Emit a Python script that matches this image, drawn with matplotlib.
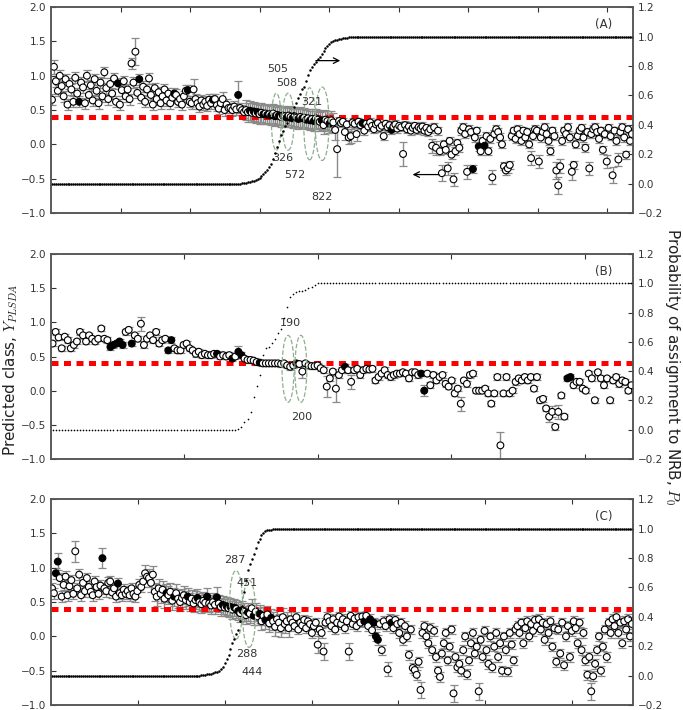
import matplotlib
matplotlib.use("Agg")
import matplotlib.pyplot as plt
from matplotlib.patches import Ellipse
import numpy as np

plt.rcParams['font.family'] = ['DejaVu Sans']
plt.rcParams['mathtext.fontset'] = 'cm'

# ---------------- panel (A) ----------------
span_A, step_A = 837, 100
Y_A = [
    0.65, 1.13, 0.92, 0.78, 1.00, 0.85, 0.70, 0.95, 0.58, 0.88,
    0.80, 0.62, 0.97, 0.74, 0.62, 0.90, 0.83, 0.60, 1.00, 0.72,
    0.86, 0.64, 0.95, 0.78, 0.60, 0.90, 0.70, 1.05, 0.82, 0.66,
    0.88, 0.74, 0.96, 0.62, 0.89, 0.58, 0.79, 0.92, 0.70, 0.80,
    0.66, 1.18, 0.90, 1.35, 0.75, 0.95, 0.68, 0.84, 0.62, 0.80,
    0.96, 0.72, 0.58, 0.82, 0.66, 0.76, 0.60, 0.70, 0.80, 0.64,
    0.74, 0.60, 0.68, 0.74, 0.72, 0.62, 0.66, 0.58, 0.70, 0.78,
    0.79, 0.62, 0.60, 0.80, 0.66, 0.60, 0.55, 0.64, 0.58, 0.62,
    0.56, 0.65, 0.60, 0.65, 0.66, 0.57, 0.52, 0.60, 0.66, 0.50,
    0.58, 0.53, 0.53, 0.50, 0.55, 0.51, 0.72, 0.53, 0.50, 0.47,
    0.50, 0.47, 0.49, 0.46, 0.48, 0.45, 0.47, 0.44, 0.46, 0.44,
    0.45, 0.43, 0.44, 0.42, 0.45, 0.41, 0.43, 0.42, 0.40, 0.42,
    0.41, 0.39, 0.42, 0.40, 0.38, 0.41, 0.39, 0.37, 0.40, 0.38,
    0.39, 0.36, 0.38, 0.35, 0.37, 0.34, 0.38, 0.36, 0.33, 0.35,
    0.28, 0.36, 0.34, 0.30, 0.35, 0.32, 0.21, -0.07, 0.34, 0.31,
    0.33, 0.18, 0.29, 0.10, 0.12, 0.32, 0.30, 0.15, 0.33, 0.28,
    0.31, 0.20, 0.30, 0.26, 0.32, 0.27, 0.22, 0.29, 0.31, 0.24,
    0.27, 0.12, 0.30, 0.25, 0.28, 0.21, 0.26, 0.29, 0.23, 0.27,
    0.25, -0.14, 0.28, 0.22, 0.26, 0.20, 0.24, 0.27, 0.21, 0.25,
    0.23, 0.26, 0.20, 0.24, 0.18, 0.22, -0.02, 0.25, -0.05, 0.20,
    -0.10, -0.42, 0.00, -0.08, -0.35, 0.05, -0.15, -0.51, -0.10, 0.02,
    -0.05, 0.20, 0.25, 0.15, -0.40, 0.22, 0.18, -0.36, 0.10, 0.20,
    -0.03, -0.10, 0.05, -0.02, 0.12, -0.10, 0.08, -0.48, 0.15, 0.22,
    0.18, 0.10, 0.00, -0.32, -0.38, -0.35, -0.30, 0.12, 0.20, 0.08,
    0.22, 0.15, 0.05, 0.20, 0.10, 0.18, 0.00, -0.20, 0.12, 0.22,
    0.20, -0.25, 0.10, 0.18, 0.25, 0.15, 0.05, -0.10, 0.20, 0.12,
    -0.38, -0.60, -0.32, 0.05, 0.20, 0.15, 0.25, 0.10, -0.40, -0.30,
    0.00, 0.12, 0.20, 0.24, 0.10, -0.05, 0.18, -0.35, 0.15, 0.22,
    0.25, 0.18, 0.08, 0.20, -0.08, 0.15, -0.25, 0.24, 0.12, -0.45,
    0.20, 0.05, -0.22, 0.18, 0.25, 0.10, -0.15, 0.22, 0.05, 0.15,
]
filled_A = [14, 34, 45, 63, 70, 83, 96, 102, 104, 106, 109, 111, 113, 115,
            117, 119, 121, 124, 127, 129, 131, 133, 135, 139, 143, 160, 175,
            217, 220, 223]
# typical error bar half-width over index ranges (start, stop, err)
err_regions_A = [(0, 100, 0.08), (100, 146, 0.14), (146, 300, 0.06)]
big_err_A = {1: 0.10, 41: 0.08, 43: 0.20, 73: 0.15, 88: 0.10, 96: 0.20,
             140: 0.13, 146: 0.15, 147: 0.40, 151: 0.12, 153: 0.10, 154: 0.10,
             157: 0.10, 181: 0.17, 196: 0.10, 198: 0.10, 201: 0.12, 204: 0.10,
             207: 0.10, 214: 0.10, 227: 0.10, 247: 0.10, 251: 0.10, 260: 0.12,
             261: 0.12, 262: 0.10, 268: 0.12, 277: 0.10, 286: 0.10, 289: 0.12,
             292: 0.10}
P_A = [0.0] * 98 + [
    0.002, 0.004, 0.006, 0.009, 0.012, 0.015, 0.018, 0.022, 0.03, 0.04,
    0.05, 0.065, 0.08, 0.095, 0.11, 0.13, 0.17, 0.21, 0.25, 0.29,
    0.33, 0.36, 0.39, 0.41, 0.43, 0.45, 0.48, 0.52, 0.55, 0.58,
    0.61, 0.64, 0.66, 0.70, 0.74, 0.77, 0.79, 0.81, 0.83, 0.845,
    0.86, 0.88, 0.90, 0.92, 0.935, 0.95, 0.96, 0.968, 0.974, 0.978,
    0.982, 0.985, 0.988, 0.99, 0.992, 0.994, 0.995, 0.996, 0.997, 0.998,
    0.999, 0.9995] + [1.0] * 140
ellipses_A = [(324, 0.33, 14, 0.83), (341, 0.33, 17, 0.83),
              (372, 0.30, 17, 1.05), (390, 0.30, 20, 1.07)]
labels_A = [("505", 326, 1.10), ("508", 339, 0.89), ("321", 375, 0.62),
            ("326", 334, -0.20), ("572", 351, -0.45), ("822", 390, -0.77)]

# ---------------- panel (B) ----------------
span_B, step_B = 218, 50
Y_B = [
    0.69, 0.86, 0.78, 0.62, 0.79, 0.74, 0.62, 0.67, 0.72, 0.86,
    0.81, 0.72, 0.81, 0.76, 0.72, 0.76, 0.91, 0.76, 0.74, 0.64,
    0.67, 0.69, 0.72, 0.67, 0.86, 0.89, 0.69, 0.81, 0.76, 0.98,
    0.67, 0.76, 0.81, 0.74, 0.86, 0.69, 0.74, 0.76, 0.59, 0.74,
    0.62, 0.59, 0.59, 0.67, 0.69, 0.62, 0.59, 0.54, 0.57, 0.52,
    0.54, 0.52, 0.52, 0.54, 0.54, 0.50, 0.52, 0.50, 0.52, 0.47,
    0.50, 0.57, 0.52, 0.47, 0.45, 0.45, 0.44, 0.42, 0.41, 0.40,
    0.40, 0.40, 0.40, 0.40, 0.40, 0.39, 0.40, 0.37, 0.35, 0.37,
    0.40, 0.39, 0.28, 0.40, 0.37, 0.36, 0.36, 0.37, 0.33, 0.30,
    0.06, 0.18, 0.28, 0.03, 0.23, 0.30, 0.35, 0.30, 0.13, 0.30,
    0.32, 0.23, 0.30, 0.32, 0.31, 0.32, 0.15, 0.20, 0.25, 0.30,
    0.23, 0.20, 0.23, 0.25, 0.25, 0.27, 0.25, 0.18, 0.27, 0.27,
    0.23, 0.25, 0.00, 0.25, 0.08, 0.23, 0.15, 0.20, 0.23, 0.10,
    0.06, 0.15, -0.04, 0.03, -0.19, 0.15, 0.10, 0.23, 0.25, 0.00,
    0.00, 0.00, 0.03, -0.04, -0.19, -0.04, 0.20, -0.80, -0.04, 0.20,
    -0.04, 0.00, 0.13, 0.18, 0.15, 0.20, 0.15, 0.20, 0.03, 0.20,
    -0.14, -0.12, -0.26, -0.38, -0.31, -0.53, -0.31, -0.07, -0.38, 0.18,
    0.20, 0.08, 0.13, 0.13, 0.03, 0.00, 0.25, 0.18, -0.14, 0.27,
    0.18, 0.08, 0.18, -0.14, 0.15, 0.20, 0.10, 0.15, 0.13, 0.00,
    0.08,
]
filled_B = [19, 20, 21, 22, 23, 26, 38, 39, 54, 59, 61, 62, 68, 80, 96,
            121, 122, 169, 170]
err_regions_B = [(0, 191, 0.04)]
big_err_B = {29: 0.10, 61: 0.08, 82: 0.10, 90: 0.15, 93: 0.20, 98: 0.10,
             122: 0.08, 134: 0.10, 147: 0.20, 163: 0.08, 164: 0.08, 166: 0.10}
P_B = [0.0] * 61 + [
    0.005, 0.02, 0.05, 0.076, 0.12, 0.225, 0.30, 0.374, 0.51, 0.556,
    0.565, 0.589, 0.62, 0.66, 0.69, 0.76, 0.84, 0.906, 0.93, 0.943,
    0.945, 0.948, 0.953, 0.965, 0.976, 0.99] + [1.0] * 104
ellipses_B = [(88.8, 0.32, 4.5, 0.98), (93.6, 0.32, 4.5, 0.98)]
labels_B = [("190", 89.5, 0.99), ("200", 94, -0.39)]

# ---------------- panel (C) ----------------
span_C, step_C = 670, 100
Y_C = [
    0.70, 0.63, 0.92, 1.09, 0.85, 0.58, 0.75, 0.87, 0.60, 0.73,
    0.82, 0.62, 1.24, 0.70, 0.90, 0.60, 0.78, 0.66, 0.85, 0.72,
    0.65, 0.60, 0.80, 0.72, 0.62, 0.74, 1.14, 0.70, 0.66, 0.78,
    0.80, 0.64, 0.70, 0.58, 0.77, 0.63, 0.60, 0.68, 0.62, 0.66,
    0.60, 0.70, 0.62, 0.58, 0.66, 0.75, 0.72, 0.80, 0.92, 0.87,
    0.85, 0.78, 0.90, 0.65, 0.58, 0.70, 0.62, 0.68, 0.55, 0.63,
    0.60, 0.65, 0.52, 0.58, 0.63, 0.55, 0.50, 0.56, 0.60, 0.53,
    0.58, 0.50, 0.55, 0.48, 0.53, 0.56, 0.50, 0.47, 0.52, 0.49,
    0.58, 0.48, 0.45, 0.50, 0.46, 0.57, 0.48, 0.43, 0.46, 0.42,
    0.44, 0.41, 0.43, 0.39, 0.42, 0.40, 0.37, 0.34, 0.38, 0.36,
    0.31, 0.35, 0.33, 0.41, 0.30, 0.36, 0.29, 0.33, 0.22, 0.30,
    0.24, 0.32, 0.19, 0.27, 0.22, 0.14, 0.25, 0.20, 0.12, 0.28,
    0.18, 0.22, 0.12, 0.25, 0.20, 0.15, 0.28, 0.10, 0.20, 0.16,
    0.24, 0.12, 0.22, 0.18, 0.05, 0.15, 0.20, -0.12, 0.10, 0.05,
    -0.22, 0.20, 0.28, 0.22, 0.15, 0.25, 0.10, 0.20, 0.29, 0.18,
    0.25, 0.12, 0.22, -0.22, 0.30, 0.18, 0.26, 0.15, 0.28, 0.20,
    0.29, 0.22, 0.30, 0.15, 0.25, 0.09, 0.20, 0.00, -0.05, 0.18,
    -0.20, 0.22, 0.15, -0.48, 0.25, 0.20, 0.12, 0.24, 0.18, 0.05,
    0.20, -0.05, 0.15, 0.00, -0.27, 0.10, -0.46, -0.49, -0.56, -0.37,
    -0.78, 0.05, 0.15, 0.00, -0.10, 0.12, -0.20, 0.08, -0.30, -0.50,
    -0.59, -0.25, -0.10, 0.05, -0.35, -0.15, 0.10, -0.83, -0.30, -0.45,
    -0.40, -0.50, -0.20, 0.00, -0.55, -0.35, -0.10, 0.05, -0.25, -0.15,
    -0.80, -0.05, -0.30, 0.08, -0.20, -0.40, 0.00, -0.45, -0.15, 0.05,
    -0.30, -0.10, -0.50, 0.00, -0.20, -0.51, 0.05, -0.12, -0.35, 0.10,
    0.15, 0.05, 0.20, -0.10, 0.12, 0.22, 0.00, 0.18, 0.08, 0.24,
    0.15, 0.25, 0.10, 0.20, -0.05, 0.18, 0.05, 0.22, -0.15, 0.12,
    -0.37, 0.10, -0.25, 0.20, -0.42, 0.00, 0.15, -0.30, 0.08, 0.22,
    0.12, -0.10, 0.20, -0.20, 0.05, -0.35, -0.56, -0.30, -0.80, -0.58,
    -0.40, -0.20, 0.00, -0.50, -0.15, 0.10, -0.30, 0.20, 0.05, 0.25,
    0.15, 0.28, 0.05, 0.20, -0.10, 0.22, 0.10, 0.25, 0.00, 0.18,
]
filled_C = [2, 3, 26, 34, 59, 63, 70, 75, 80, 85, 88, 90, 92, 94, 96, 98,
            101, 104, 107, 110, 113, 161, 164, 166, 167, 168, 175]
err_regions_C = [(0, 50, 0.08), (50, 124, 0.13), (124, 300, 0.07)]
big_err_C = {3: 0.12, 12: 0.15, 26: 0.15, 48: 0.12, 85: 0.15, 137: 0.12,
             140: 0.12, 153: 0.12, 173: 0.10, 190: 0.12, 207: 0.12,
             220: 0.12, 278: 0.12}
P_C = [0.0] * 77 + [
    0.002, 0.004, 0.006, 0.008, 0.011, 0.014, 0.018, 0.022, 0.027, 0.033,
    0.045, 0.06, 0.085, 0.11, 0.14, 0.18, 0.22, 0.25, 0.28, 0.31,
    0.37, 0.47, 0.57, 0.65, 0.72, 0.76, 0.79, 0.83, 0.87, 0.91,
    0.93, 0.955, 0.97, 0.98, 0.988, 0.991, 0.993, 0.995, 0.997, 0.999] + [1.0] * 183
ellipses_C = [(213, 0.46, 15, 1.0), (228, 0.33, 15, 0.98)]
labels_C = [("287", 212, 1.11), ("451", 226, 0.78), ("288", 226, -0.26),
            ("444", 231, -0.52)]

threshold = 0.4
tick_col = '#333333'
spine_col = '#555555'


def draw_panel(rect, span, step, Y, err_regions, big_err, filled, P,
               ellipses, labels, tag, curve_fmt, curve_ms):
    ax = fig.add_axes(rect)
    n = len(Y)
    x = (np.arange(n) + 0.5) * span / n
    y = np.array(Y)
    err = np.zeros(n)
    for a, b, e in err_regions:
        err[a:b] = e
    for i, e in big_err.items():
        err[i] = e
    ax.errorbar(x, y, yerr=err, fmt='none', ecolor='#8a8a8a', elinewidth=1.0,
                capsize=2.8, capthick=0.9, zorder=1)
    ax.axhline(threshold, color='red', lw=3.6, ls=(0, (1.4, 1.1)), zorder=2)
    face = ['black' if i in filled else 'white' for i in range(n)]
    ax.scatter(x, y, s=24, facecolors=face, edgecolors='black',
               linewidths=0.8, zorder=3)
    for cx, cy, w, h in ellipses:
        ax.add_patch(Ellipse((cx, cy), w, h, fill=False, ec='#8fae8f',
                             ls='--', lw=0.9, zorder=5))
    for txt, tx, ty in labels:
        ax.text(tx, ty, txt, ha='center', va='center', fontsize=8,
                color=tick_col, zorder=6)
    ax.text(0.95, 0.915, tag, transform=ax.transAxes, ha='center',
            va='center', fontsize=8.5, color=tick_col)
    ax.set_xlim(0, span)
    ax.set_ylim(-1.0, 2.0)
    ax.set_xticks(np.arange(step, span, step))
    ax.set_yticks(np.arange(-1.0, 2.01, 0.5))
    ax.tick_params(direction='in', top=True, labelbottom=False,
                   labelsize=7.5, colors=tick_col, length=3.5, width=0.8)

    ax2 = ax.twinx()
    ax2.plot(x, P, curve_fmt, color='black', ms=curve_ms, mew=0)
    ax2.set_ylim(-0.2, 1.2)
    ax2.set_yticks(np.arange(-0.2, 1.21, 0.2))
    ax2.tick_params(direction='in', labelsize=7.5, colors=tick_col,
                    length=3.5, width=0.8)
    for a in (ax, ax2):
        for s in a.spines.values():
            s.set_color(spine_col)
            s.set_linewidth(1.1)
    return ax, ax2


fig = plt.figure(figsize=(6.83, 7.10), dpi=100)

axA, _ = draw_panel([0.0747, 0.700, 0.852, 0.290], span_A, step_A, Y_A,
                    err_regions_A, big_err_A, filled_A, P_A, ellipses_A,
                    labels_A, "(A)", 'o', 1.8)
axA.annotate("", xy=(420, 1.22), xytext=(377, 1.22),
             arrowprops=dict(arrowstyle='->', color='black', lw=0.9))
axA.annotate("", xy=(516, -0.44), xytext=(562, -0.44),
             arrowprops=dict(arrowstyle='->', color='black', lw=0.9))

draw_panel([0.0747, 0.3535, 0.852, 0.2887], span_B, step_B, Y_B,
           err_regions_B, big_err_B, filled_B, P_B, ellipses_B,
           labels_B, "(B)", '.', 2.4)

draw_panel([0.0747, 0.007, 0.852, 0.290], span_C, step_C, Y_C,
           err_regions_C, big_err_C, filled_C, P_C, ellipses_C,
           labels_C, "(C)", 'o', 1.8)

fig.text(0.016, 0.479, "Predicted class, $Y_{PLSDA}$", rotation=90,
         ha='center', va='center', fontsize=11, color='#222222')
fig.text(0.984, 0.483, "Probability of assignment to NRB, $P_0$",
         rotation=270, ha='center', va='center', fontsize=11, color='#222222')

fig.savefig("out.png", dpi=100)
